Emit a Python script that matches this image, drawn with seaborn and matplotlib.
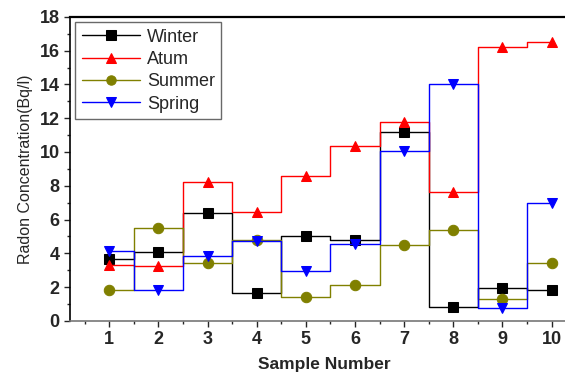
import seaborn as sns
import matplotlib.pyplot as plt
import pandas as pd

samples = [1, 2, 3, 4, 5, 6, 7, 8, 9, 10]
winter = [3.65, 4.05, 6.4, 1.65, 5.05, 4.8, 11.2, 0.8, 1.95, 1.8]
atum = [3.3, 3.25, 8.2, 6.45, 8.6, 10.35, 11.75, 7.65, 16.2, 16.5]
summer = [1.8, 5.5, 3.4, 4.8, 1.4, 2.15, 4.5, 5.4, 1.3, 3.45]
spring = [4.15, 1.85, 3.85, 4.75, 2.95, 4.55, 10.05, 14.05, 0.75, 6.95]

series = [("Winter", winter, "black", "s"),
          ("Atum", atum, "red", "^"),
          ("Summer", summer, "#808000", "o"),
          ("Spring", spring, "blue", "v")]

sns.set_style("ticks")
plt.rcParams['font.family'] = ['Liberation Sans', 'DejaVu Sans']

fig = plt.figure(figsize=(5.65, 3.74), dpi=100)
# axes run off the right edge, as in the original scan
ax = fig.add_axes([0.124, 0.142, 0.9, 0.813])

for name, vals, col, mk in series:
    df = pd.DataFrame({"x": samples, "y": vals})
    sns.lineplot(data=df, x="x", y="y", ax=ax, color=col, marker=mk,
                 markersize=7.5, markeredgecolor=col, linewidth=1,
                 drawstyle="steps-mid", label=name)

ax.set_xlim(0.2, 10.55)
ax.set_ylim(0, 18)
ax.set_xticks(samples)
ax.set_xticks([x + 0.5 for x in samples[:-1]] + [0.5], minor=True)
ax.set_yticks(range(0, 19, 2))
ax.set_yticks(range(1, 18, 2), minor=True)
ax.tick_params(axis='both', which='major', labelsize=13, length=4, width=1, direction='out')
ax.tick_params(axis='both', which='minor', length=2.5, width=1, direction='out')
for lab in ax.get_xticklabels() + ax.get_yticklabels():
    lab.set_fontweight('bold')

ax.set_xlabel("Sample Number", fontsize=12.5, fontweight='bold', labelpad=6)
ax.set_ylabel("Radon Concentration(Bq/l)", fontsize=11.5, labelpad=5)

for s in ax.spines.values():
    s.set_visible(True)
    s.set_color('black')
ax.spines['top'].set_linewidth(1.6)
ax.spines['left'].set_linewidth(1.2)
ax.spines['bottom'].set_linewidth(1.2)
ax.spines['bottom'].set_color('#777777')
ax.spines['right'].set_visible(False)

leg = ax.legend(loc='upper left', fontsize=13, frameon=True, fancybox=False,
                edgecolor='#444444', borderpad=0.35, labelspacing=0.3,
                handlelength=3.2, handletextpad=0.4, borderaxespad=0.3,
                markerscale=0.9)
leg.get_frame().set_linewidth(1)

fig.savefig("out.png", dpi=100)
